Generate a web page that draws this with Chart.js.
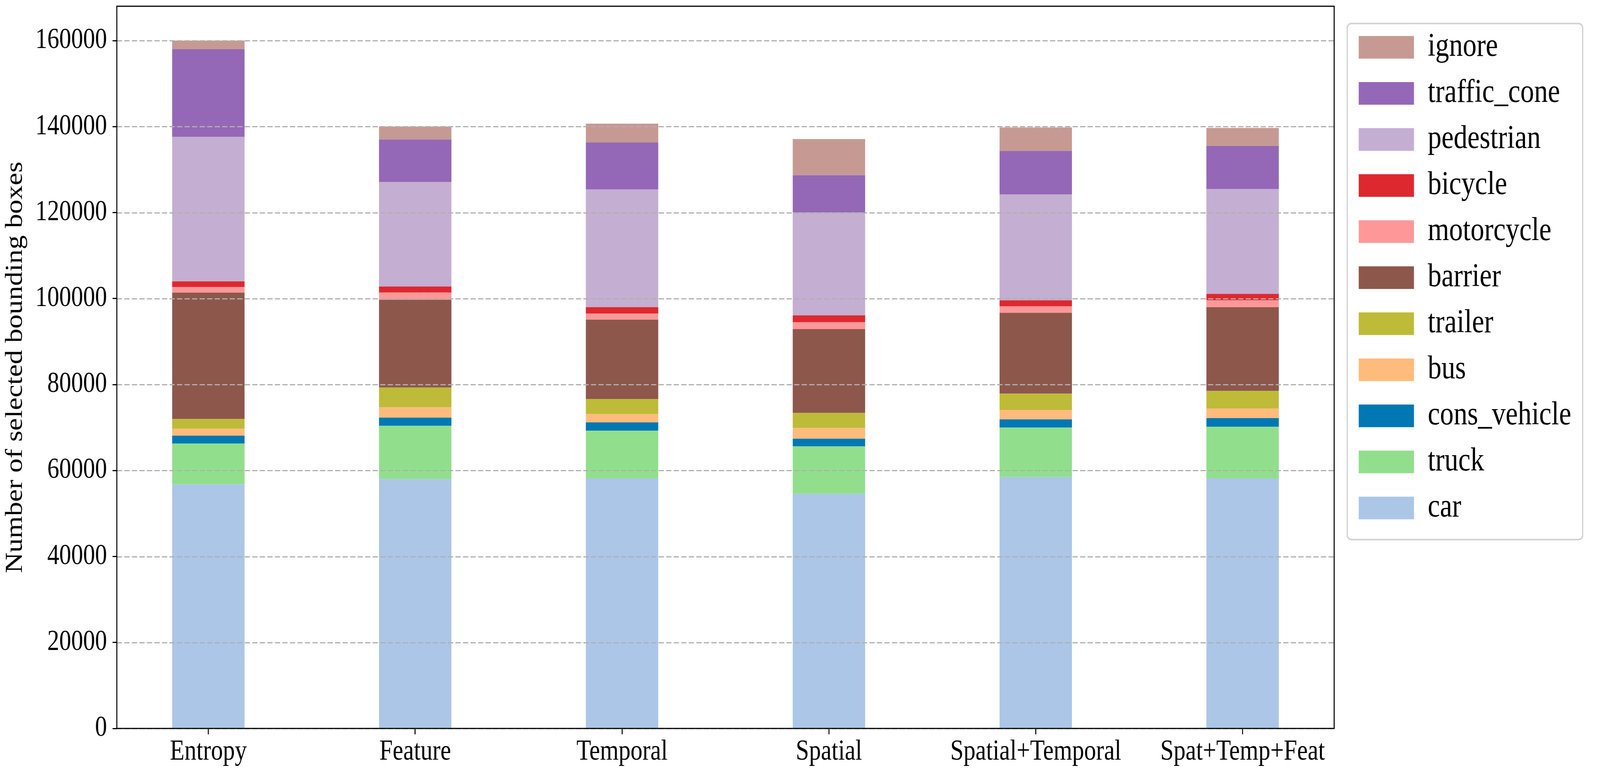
<!DOCTYPE html>
<html>

<head>
  <meta charset="utf-8">
  <title>Selected bounding boxes</title>
  <style>
    html, body { margin: 0; padding: 0; background: #fff; overflow: hidden; }
    canvas { display: block; }
  </style>
</head>

<body>
  <!-- drawn at 4890x1975 and fitted to whatever the window really is -->
  <canvas id="chart" width="4890" height="1975" style="width:100vw;height:100vh"></canvas>

  <script src="https://cdn.jsdelivr.net/npm/chart.js"></script>

  <script>
    const categories = ['Entropy', 'Feature', 'Temporal', 'Spatial', 'Spatial+Temporal', 'Spat+Temp+Feat'];
    const yTicks = [0, 20000, 40000, 60000, 80000, 100000, 120000, 140000, 160000];

    // bottom to top
    const car = [56800, 58000, 58200, 54600, 58500, 58200];
    const truck = [9500, 12400, 11100, 11000, 11500, 12000];
    const consVehicle = [1800, 1900, 1900, 1800, 1900, 2000];
    const bus = [1600, 2400, 2000, 2500, 2200, 2200];
    const trailer = [2300, 4600, 3400, 3500, 3800, 4100];
    const barrier = [29400, 20400, 18500, 19500, 18800, 19500];
    const motorcycle = [1300, 1700, 1400, 1600, 1500, 1600];
    const bicycle = [1300, 1400, 1500, 1600, 1400, 1500];
    const pedestrian = [33600, 24300, 27400, 23900, 24600, 24400];
    const trafficCone = [20400, 9900, 10900, 8700, 10100, 10000];
    const ignore = [2000, 3000, 4400, 8400, 5500, 4200];

    const seriesNames = ['car', 'truck', 'cons_vehicle', 'bus', 'trailer', 'barrier',
      'motorcycle', 'bicycle', 'pedestrian', 'traffic_cone', 'ignore'];
    const seriesValues = [car, truck, consVehicle, bus, trailer, barrier,
      motorcycle, bicycle, pedestrian, trafficCone, ignore];
    const seriesColors = ['#abc6e7', '#91df8c', '#0078b4', '#febb7b', '#bebb38', '#8e574c',
      '#fe9898', '#de2830', '#c4aed2', '#9567b7', '#c69a92'];

    const FONT = "'Liberation Serif', 'Times New Roman', serif";

    // dashed grid drawn over the bars, the box round the axes, and the legend frame
    const overlay = {
      id: 'overlay',
      afterDatasetsDraw(chart) {
        const { ctx, chartArea: a, scales: { y } } = chart;
        ctx.save();
        ctx.strokeStyle = '#b0b0b0';
        ctx.lineWidth = 3;
        ctx.setLineDash([16, 7]);
        yTicks.forEach(v => {
          const py = Math.round(y.getPixelForValue(v)) + 0.5;
          ctx.beginPath();
          ctx.moveTo(a.left, py);
          ctx.lineTo(a.right, py);
          ctx.stroke();
        });
        ctx.setLineDash([]);
        ctx.strokeStyle = '#000';
        ctx.lineWidth = 3;
        ctx.strokeRect(a.left, a.top, a.right - a.left, a.bottom - a.top);
        ctx.restore();
      },
      afterDraw(chart) {
        const hb = chart.legend && chart.legend.legendHitBoxes;
        if (!hb || !hb.length) return;
        const left = Math.min(...hb.map(h => h.left)) - 35;
        const right = Math.max(...hb.map(h => h.left + h.width)) + 35;
        const top = hb[0].top - 19;
        const last = hb[hb.length - 1];
        const bottom = last.top + last.height + 39;
        const { ctx } = chart;
        ctx.save();
        ctx.strokeStyle = '#d3d3d3';
        ctx.lineWidth = 4;
        ctx.beginPath();
        if (ctx.roundRect) ctx.roundRect(left, top, right - left, bottom - top, 12);
        else ctx.rect(left, top, right - left, bottom - top);
        ctx.stroke();
        ctx.restore();
      }
    };

    new Chart(document.getElementById('chart'), {
      type: 'bar',
      data: {
        datasets: seriesNames.map((name, k) => ({
          label: name,
          data: seriesValues[k].map((v, i) => ({ x: i, y: v })),
          backgroundColor: seriesColors[k],
          borderWidth: 0,
          barPercentage: 0.35,
          categoryPercentage: 1
        }))
      },
      options: {
        responsive: false,
        devicePixelRatio: 1,
        animation: false,
        layout: { padding: { top: 16, right: 78, bottom: 0, left: 0 } },
        plugins: {
          tooltip: { enabled: false },
          legend: {
            position: 'right',
            align: 'start',
            reverse: true,
            title: { display: true, text: '', font: { size: 1 }, padding: { top: 28, bottom: 0 } },
            labels: {
              boxWidth: 169,
              boxHeight: 58,
              padding: 34,
              color: '#000',
              font: { family: FONT, size: 84 }
            }
          }
        },
        scales: {
          x: {
            type: 'linear',
            stacked: true,
            offset: false,
            min: -0.4425,
            max: 5.4425,
            afterBuildTicks: s => { s.ticks = categories.map((c, i) => ({ value: i })); },
            afterFit: s => { s.height = 109; s.paddingLeft = 0; s.paddingRight = 0; },
            ticks: {
              autoSkip: false,
              maxRotation: 0,
              padding: 2,
              color: '#000',
              font: { family: FONT, size: 73 },
              callback: v => categories[v]
            },
            grid: { offset: false, drawOnChartArea: false, drawTicks: true, tickLength: 15, color: '#000', lineWidth: 3 },
            border: { display: false }
          },
          y: {
            stacked: true,
            min: 0,
            max: 168000,
            afterBuildTicks: s => { s.ticks = yTicks.map(v => ({ value: v })); },
            afterFit: s => { s.width = 357; s.paddingTop = 0; s.paddingBottom = 0; },
            ticks: {
              padding: 17,
              color: '#000',
              font: { family: FONT, size: 73 },
              callback: v => String(v)
            },
            grid: { drawOnChartArea: false, drawTicks: true, tickLength: 13, color: '#000', lineWidth: 3 },
            border: { display: false },
            title: {
              display: true,
              text: 'Number of selected bounding boxes',
              color: '#000',
              font: { family: FONT, size: 73 },
              padding: { top: 4, bottom: 4 }
            }
          },
          gap: {
            type: 'linear',
            position: 'right',
            display: true,
            afterFit: s => { s.width = 41; s.paddingTop = 0; s.paddingBottom = 0; },
            ticks: { display: false },
            grid: { display: false, drawTicks: false },
            border: { display: false }
          }
        }
      },
      plugins: [overlay]
    });
  </script>
</body>

</html>
